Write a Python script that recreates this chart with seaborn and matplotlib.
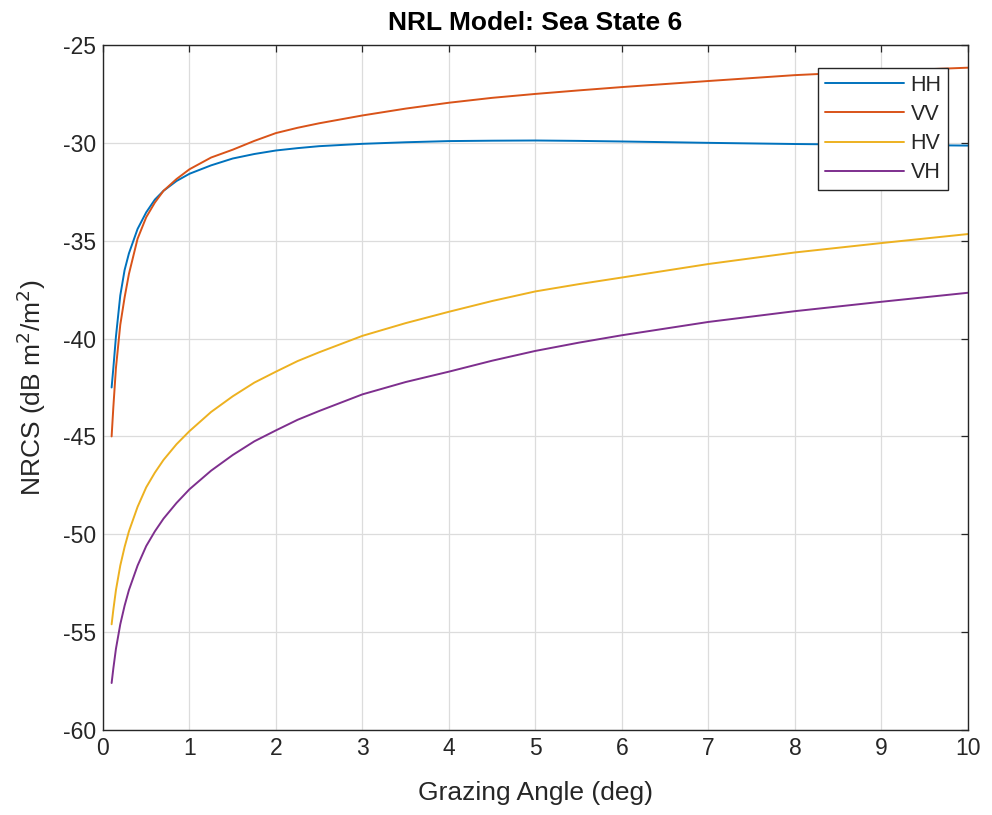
import numpy as np
import pandas as pd
import matplotlib
matplotlib.use("Agg")
import matplotlib.pyplot as plt
import seaborn as sns

# grazing angle (deg) and NRCS values (dB m^2/m^2)
angles = [0.1, 0.12, 0.15, 0.2, 0.25, 0.3, 0.4, 0.5, 0.6, 0.7, 0.85, 1.0, 1.25, 1.5, 1.75,
          2.0, 2.25, 2.5, 3.0, 3.5, 4.0, 4.5, 5.0, 5.5, 6.0, 7.0, 8.0, 9.0, 10.0]
hh = [-42.5, -41.5, -39.9, -37.8, -36.5, -35.65, -34.4, -33.55, -32.9, -32.45, -31.95, -31.58,
      -31.15, -30.8, -30.57, -30.39, -30.27, -30.17, -30.05, -29.97, -29.91, -29.89, -29.88,
      -29.9, -29.93, -30.0, -30.06, -30.1, -30.14]
vv = [-45.0, -43.5, -41.5, -39.3, -37.9, -36.7, -34.9, -33.8, -33.05, -32.45, -31.85, -31.35,
      -30.75, -30.35, -29.9, -29.5, -29.23, -29.0, -28.6, -28.25, -27.95, -27.7, -27.5,
      -27.32, -27.15, -26.84, -26.54, -26.33, -26.16]
hv = [-54.6, -53.85, -52.85, -51.6, -50.65, -49.85, -48.6, -47.6, -46.85, -46.2, -45.4, -44.73,
      -43.75, -42.95, -42.25, -41.69, -41.15, -40.7, -39.86, -39.21, -38.63, -38.08, -37.59,
      -37.22, -36.88, -36.19, -35.6, -35.12, -34.66]
vh = [-57.6, -56.85, -55.85, -54.6, -53.65, -52.85, -51.6, -50.6, -49.85, -49.2, -48.4, -47.7,
      -46.75, -45.95, -45.25, -44.69, -44.15, -43.7, -42.85, -42.22, -41.69, -41.13, -40.63,
      -40.21, -39.83, -39.15, -38.6, -38.12, -37.66]
labels = ["HH", "VV", "HV", "VH"]
colors = ["#0072BD", "#D95319", "#EDB120", "#7E2F8E"]

df = pd.concat([pd.DataFrame({"angle": angles, "nrcs": v, "pol": lab})
                for lab, v in zip(labels, [hh, vv, hv, vh])], ignore_index=True)

sns.set_theme(style="white")
plt.rcParams['font.family'] = ['Liberation Sans', 'DejaVu Sans']
plt.rcParams['axes.unicode_minus'] = False

fig = plt.figure(figsize=(9.92, 8.15), dpi=100)
ax = fig.add_axes([0.1038, 0.1043, 0.872, 0.8405])

sns.lineplot(data=df, x="angle", y="nrcs", hue="pol", palette=colors,
             hue_order=labels, linewidth=1.4, ax=ax)

ax.set_xlim(0, 10)
ax.set_ylim(-60, -25)
ax.set_xticks(np.arange(0, 11, 1))
ax.set_yticks(np.arange(-60, -24, 5))
ax.grid(True, color="#dcdcdc", linewidth=0.9)
ax.set_axisbelow(True)
for s in ax.spines.values():
    s.set_color("#262626")
    s.set_linewidth(1.0)
ax.tick_params(direction="in", length=5, width=0.9, color="#262626",
               top=True, right=True, labelsize=16.5, labelcolor="#262626", pad=5)

ax.set_title("NRL Model: Sea State 6", fontsize=19, fontweight="bold", color="black", pad=11)
ax.set_xlabel("Grazing Angle (deg)", fontsize=19, color="#262626", labelpad=15)
ax.set_ylabel("NRCS (dB m$^2$/m$^2$)", fontsize=19, color="#262626", labelpad=11)

leg = ax.legend(loc="upper right", bbox_to_anchor=(0.977, 0.966), fontsize=15.5,
                frameon=True, fancybox=False, framealpha=1, edgecolor="#262626",
                handlelength=3.7, handletextpad=0.3, borderpad=0.3, labelspacing=0.38,
                borderaxespad=0)
leg.get_frame().set_linewidth(1.0)

fig.savefig("out.png", dpi=100)
